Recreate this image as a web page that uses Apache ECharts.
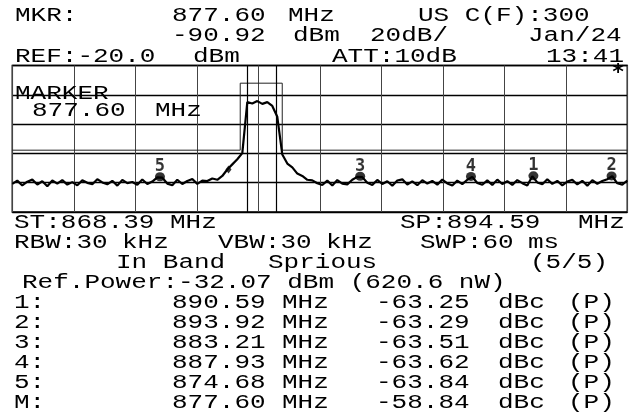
<!DOCTYPE html>
<html>
<head>
<meta charset="utf-8">
<script src="https://cdn.jsdelivr.net/npm/echarts@6/dist/echarts.min.js"></script>
<style>
html, body { margin: 0; background: #fff; }
#spec { width: 630px; height: 414px; }
</style>
</head>
<body>
<div id="spec"></div>
<script>
// sweep settings
var startMHz = 868.39;
var stopMHz = 894.59;
var refLevel = -20;      // dBm, top line
var dbPerDiv = 20;
var refPower = -32.07;   // dBm, channel power

// trace (dBm), evenly spaced over the sweep
var traceDbm = [
  -100.8, -98.6, -101.9, -99.3, -97.9, -101.2, -99.0, -102.4, -98.5, -100.6,
  -98.2, -101.3, -99.6, -101.8, -98.4, -100.1, -101.0, -97.6, -99.8, -101.1,
  -98.7, -102.0, -98.1, -100.3, -99.5, -101.4, -97.8, -100.9, -99.2, -96.4,
  -96.6, -100.6, -101.7, -98.0, -100.9, -98.8, -97.5, -100.8, -98.6, -98.9,
  -97.1, -98.0, -95.4, -91.0, -87.5, -84.0, -79.8, -45.0, -45.9, -44.3,
  -46.2, -45.0, -47.6, -55.0, -80.8, -86.9, -89.5, -93.8, -95.4, -98.0,
  -98.4, -100.4, -101.6, -98.6, -101.9, -98.2, -100.6, -101.1, -98.0, -96.0,
  -96.2, -100.1, -101.5, -98.1, -100.9, -99.0, -102.1, -98.5, -97.7, -101.2,
  -99.1, -101.7, -98.3, -100.6, -98.8, -101.3, -97.9, -100.5, -101.9, -98.6,
  -101.0, -98.0, -96.0, -100.2, -101.4, -98.4, -101.6, -97.9, -100.9, -99.0,
  -101.5, -98.2, -100.3, -101.9, -95.6, -99.8, -101.1, -97.6, -100.8, -98.8,
  -101.8, -99.2, -98.1, -101.2, -98.7, -102.0, -98.3, -100.7, -98.9, -97.6,
  -95.6, -100.4, -101.3, -98.5
];

// spurious markers (table at the bottom)
var markerNames = ['1', '2', '3', '4', '5', 'M'];
var markerMHz = [890.59, 893.92, 883.21, 887.93, 874.68, 877.60];
var markerDbc = [-63.25, -63.29, -63.51, -63.62, -63.84, -58.84];

// channel edges and in-band mask
var chanEdgesMHz = [878.385, 879.615];
var maskMHz = [868.39, 878.10, 878.10, 879.89, 879.89, 894.59];
var maskDbm = [-77.8, -77.8, -32.07, -32.07, -77.8, -77.8];

var span = stopMHz - startMHz;
var step = span / (traceDbm.length - 1);

var tracePts = traceDbm.map(function (v, i) { return [i * step, v]; });
var maskPts = maskMHz.map(function (f, i) { return [f - startMHz, maskDbm[i]]; });
var markerPts = markerMHz.map(function (f, i) {
  var isM = markerNames[i] === 'M';
  return {
    name: markerNames[i],
    value: [f - startMHz, refPower + markerDbc[i]],
    symbol: isM ? 'diamond' : 'circle',
    symbolSize: isM ? [6, 8] : [10, 9],
    label: { show: !isM }
  };
});

// screen text, monospace stretched to the analyzer's character cell
var CHAR_W = 15.6, FONT_PX = 20;
function txt(x, y, s) {
  return {
    type: 'text', x: x, y: y + 1, z: 100,
    scaleX: CHAR_W / (FONT_PX * 0.6),
    style: {
      text: s, fill: '#000',
      font: FONT_PX + 'px "Liberation Mono", monospace',
      textAlign: 'left', textVerticalAlign: 'middle',
      align: 'left', verticalAlign: 'middle'
    }
  };
}

var screenText = [
  [15, 14.5, 'MKR:'], [172, 14.5, '877.60'], [288, 14.5, 'MHz'], [418, 14.5, 'US C(F):300'],
  [172, 34.5, '-90.92'], [293, 34.5, 'dBm'], [370, 34.5, '20dB/'], [528, 34.5, 'Jan/24'],
  [15, 55.5, 'REF:-20.0'], [193, 55.5, 'dBm'], [332, 55.5, 'ATT:10dB'], [546, 55.5, '13:41'],
  [15, 93, 'MARKER'], [32, 109.5, '877.60'], [155, 109.5, 'MHz'],
  [14, 222, 'ST:868.39'], [170, 222, 'MHz'], [400, 222, 'SP:894.59'], [578, 222, 'MHz'],
  [14, 242, 'RBW:30'], [122, 242, 'kHz'], [218, 242, 'VBW:30'], [326, 242, 'kHz'], [420, 242, 'SWP:60'], [528, 242, 'ms'],
  [116, 262, 'In Band'], [268, 262, 'Sprious'], [530, 262, '(5/5)'],
  [22, 282, 'Ref.Power:-32.07 dBm (620.6 nW)']
];
var tableY = [302, 322, 342, 362, 382, 402];
var tableRows = [
  ['1:', '890.59', '-63.25'],
  ['2:', '893.92', '-63.29'],
  ['3:', '883.21', '-63.51'],
  ['4:', '887.93', '-63.62'],
  ['5:', '874.68', '-63.84'],
  ['M:', '877.60', '-58.84']
];
tableRows.forEach(function (r, i) {
  var y = tableY[i];
  screenText.push([14, y, r[0]], [172, y, r[1]], [282, y, 'MHz'], [376, y, r[2]], [498, y, 'dBc'], [568, y, '(P)']);
});

var graphics = screenText.map(function (t) { return txt(t[0], t[1], t[2]); });
graphics.push({
  type: 'text', x: 618, y: 73, z: 100,
  style: { text: '*', fill: '#000', font: 'bold 22px "DejaVu Sans Mono"', textAlign: 'center', textVerticalAlign: 'middle', align: 'center', verticalAlign: 'middle' }
});

var chart = echarts.init(document.getElementById('spec'), null, { renderer: 'canvas' });
chart.setOption({
  backgroundColor: '#fff',
  animation: false,
  grid: {
    left: 12.3, right: 2.7, top: 65.5, bottom: 202,
    show: true, borderColor: '#000', borderWidth: 1.5, backgroundColor: '#fff'
  },
  xAxis: {
    type: 'value', min: 0, max: span, interval: span / 10,
    axisLine: { show: false }, axisTick: { show: false }, axisLabel: { show: false },
    splitLine: { show: true, lineStyle: { color: '#444', width: 1 } }
  },
  yAxis: {
    type: 'value', min: refLevel - 5 * dbPerDiv, max: refLevel, interval: dbPerDiv,
    axisLine: { show: false }, axisTick: { show: false }, axisLabel: { show: false },
    splitLine: { show: true, lineStyle: { color: '#000', width: 1.3 } }
  },
  series: [
    {
      name: 'mask', type: 'line', data: maskPts, showSymbol: false, z: 2,
      lineStyle: { color: '#222', width: 1 }, silent: true
    },
    {
      name: 'trace', type: 'line', data: tracePts, showSymbol: false, z: 3,
      lineStyle: { color: '#000', width: 2.2 }, silent: true,
      markLine: {
        silent: true, symbol: ['none', 'none'], label: { show: false },
        lineStyle: { color: '#000', width: 1.2, type: 'solid' },
        data: chanEdgesMHz.map(function (f) { return { xAxis: f - startMHz }; })
      }
    },
    {
      name: 'markers', type: 'scatter', data: markerPts, z: 4,
      itemStyle: { color: '#000' },
      label: {
        position: 'top', distance: -3, formatter: '{b}', color: '#000',
        fontFamily: '"DejaVu Sans Mono", monospace', fontWeight: 'bold', fontSize: 17
      }
    }
  ],
  graphic: graphics
});
</script>
</body>
</html>
